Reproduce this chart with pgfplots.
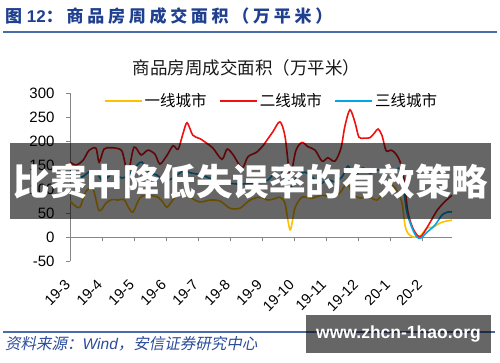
\documentclass[border=0pt]{standalone}
\usepackage{fontspec}
\setmainfont{Liberation Sans}
\newfontfamily\cjk{Noto Sans CJK SC}
\newfontfamily\cjkhead[LetterSpace=22]{Noto Sans CJK SC}
\newfontfamily\cjkslant[FakeSlant=0.2]{Noto Sans CJK SC}
\usepackage{pgfplots}
\usepackage{pgfplotstable}
\pgfplotsset{compat=1.18}
\definecolor{cyellow}{HTML}{FFC000}
\definecolor{cred}{HTML}{F01010}
\definecolor{cblue}{HTML}{00A6E6}
\definecolor{hdrblue}{HTML}{1F3F8F}
\definecolor{linblue}{HTML}{4A6DAA}
\definecolor{srcblue}{HTML}{2B4C9B}
\definecolor{axgray}{HTML}{868686}

% x in months from 19-3 (0) ; weekly values
\pgfplotstableread{
x y
0.00 75
0.16 65
0.31 62
0.50 95
0.72 100
0.91 55
1.13 71
1.31 78
1.50 77
1.69 78
1.84 60
1.97 52
2.13 75
2.25 85
2.47 87
2.75 83
2.91 72
3.03 62
3.19 75
3.31 85
3.44 92
3.63 90
3.75 83
4.06 73
4.38 77
4.69 75
5.00 60
5.31 60
5.63 77
5.94 83
6.19 77
6.41 80
6.56 83
6.72 70
6.88 15
7.03 60
7.25 83
7.56 81
7.88 87
8.19 83
8.44 92
8.66 112
8.84 90
9.06 81
9.31 85
9.59 77
9.84 94
10.06 108
10.25 92
10.38 70
10.47 25
10.56 8
10.72 0
10.94 2
11.16 19
11.34 20
11.56 29
11.75 33
11.94 35
}\tfirst

\pgfplotstableread{
x y
0.00 156
0.19 150
0.41 160
0.59 180
0.81 185
0.91 156
1.06 183
1.25 186
1.44 185
1.63 178
1.81 135
2.00 187
2.22 171
2.44 181
2.66 172
2.81 152
3.03 170
3.22 190
3.38 183
3.53 215
3.66 238
3.84 212
4.06 205
4.28 195
4.47 185
4.75 162
4.91 183
5.09 172
5.38 144
5.56 167
5.84 177
6.03 190
6.19 205
6.34 219
6.56 240
6.72 210
6.88 130
7.06 180
7.25 197
7.44 188
7.66 181
7.88 158
8.06 165
8.28 158
8.47 185
8.59 230
8.75 265
8.91 238
9.03 208
9.19 206
9.38 207
9.53 218
9.63 225
9.75 212
9.88 180
10.03 181
10.16 175
10.31 158
10.44 120
10.56 52
10.72 18
10.88 2
11.00 3
11.25 30
11.47 55
11.69 72
11.94 87
}\tsecond

\pgfplotstableread{
x y
0.00 129
0.19 127
0.38 125
0.63 137
0.84 133
1.03 116
1.19 125
1.34 131
1.63 123
1.81 128
1.97 140
2.13 152
2.25 156
2.41 140
2.56 132
2.72 129
2.97 115
3.13 120
3.28 125
3.53 137
3.81 133
4.06 130
4.28 125
4.47 119
4.69 114
5.00 112
5.31 110
5.63 112
5.84 113
6.00 115
6.19 119
6.41 135
6.56 146
6.72 115
6.88 100
7.09 125
7.34 135
7.56 125
7.81 110
8.03 120
8.28 115
8.50 125
8.69 148
8.84 130
9.00 133
9.16 144
9.38 133
9.63 140
9.84 133
10.09 138
10.31 142
10.41 108
10.53 52
10.69 19
10.84 0
10.97 -2
11.16 10
11.41 25
11.63 46
11.81 52
11.94 52
}\tthird

\begin{document}
\begin{tikzpicture}[x=1pt,y=1pt]
\useasboundingbox (0,0) rectangle (500,362);
\fill[white] (0,0) rectangle (500,362);
% header
\node[anchor=west, inner sep=0, text=hdrblue] at (5,345.5)
  {\fontsize{17}{17}\selectfont{\cjk\bfseries 图} {\bfseries 12}{\cjkhead\bfseries ：商品房周成交面积（万平米）}};
\draw[linblue, line width=1.2pt] (3,330) -- (497,330);
% chart title
\node[text=black!90] at (246.5,294) {\cjk\fontsize{17.5}{17.5}\selectfont 商品房周成交面积（万平米）};

\begin{axis}[
  at={(70pt,125pt)}, anchor=origin,
  scale only axis, width=382pt, height=168pt,
  xmin=0, xmax=11.94, ymin=-50, ymax=300,
  axis x line=middle, axis y line=left,
  axis line style={axgray, line width=0.8pt, -},
  xtick={0,1,2,3,4,5,6,7,8,9,10,11},
  xticklabels={19-3,19-4,19-5,19-6,19-7,19-8,19-9,19-10,19-11,19-12,20-1,20-2},
  ytick={-50,0,50,100,150,200,250,300},
  tick align=outside, major tick length=4pt,
  tick style={axgray, line width=0.8pt},
  tick label style={font=\fontsize{14.5}{14.5}\selectfont, text=black},
  xticklabel style={rotate=45, anchor=east},
  xticklabel shift=39pt,
  yticklabel style={anchor=east, font=\fontsize{15}{15}\selectfont},
  yticklabel shift=8pt,
  /pgf/number format/assume math mode=true,
  hide obscured x ticks=false, hide obscured y ticks=false,
  legend style={at={(0.527,0.952)}, anchor=center, draw=none, fill=none,
    legend columns=3, font=\cjk\fontsize{15.5}{15.5}\selectfont,
    /tikz/every even column/.append style={column sep=10pt}},
  legend image code/.code={\draw[#1, line width=2.2pt] (0pt,0pt) -- (37pt,0pt);},
  every axis plot/.append style={line width=1.6pt, smooth, no markers},
]
\addplot[cyellow] table[x=x,y=y] {\tfirst};
\addlegendentry{一线城市}
\addplot[cred] table[x=x,y=y] {\tsecond};
\addlegendentry{二线城市}
\addplot[cblue] table[x=x,y=y] {\tthird};
\addlegendentry{三线城市}
\end{axis}

% banner overlay
\fill[black, opacity=0.6] (10,143) rectangle (491,219);
\node[text=white] at (251,181) {\cjk\bfseries\fontsize{36.5}{36.5}\selectfont 比赛中降低失误率的有效策略};

% footer
\draw[linblue, line width=1.2pt] (3,30) -- (495,30);
\node[anchor=west, inner sep=0, text=srcblue] at (5,18)
  {\fontsize{15.5}{15.5}\selectfont{\cjkslant 资料来源：}{\itshape Wind}{\cjkslant ，安信证券研究中心}};
\fill[black, opacity=0.6] (306,9) rectangle (491,47);
\node[text=white] at (398.5,28) {\bfseries\fontsize{17.5}{17.5}\selectfont www.zhcn-1hao.org};
\end{tikzpicture}
\end{document}
